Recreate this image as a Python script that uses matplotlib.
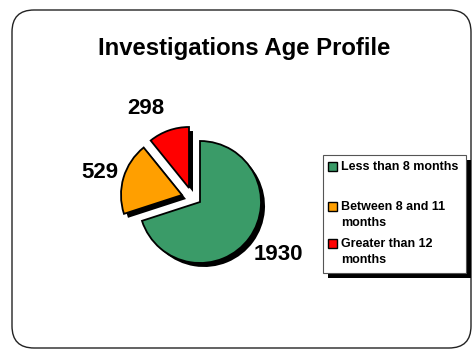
import matplotlib.pyplot as plt
from matplotlib.patches import FancyBboxPatch, Rectangle

plt.rcParams['font.family'] = ['Liberation Sans', 'DejaVu Sans']

# age bands and counts
labels = ["Less than 8 months", "Between 8 and 11\nmonths", "Greater than 12\nmonths"]
counts = [1930, 529, 298]
colors = ["#3A9B68", "#FF9F00", "#FF0000"]

# pixel offsets for the pulled-out slices
shifts = [(0, 0), (-18, 7), (-11, 14)]

fig = plt.figure(figsize=(4.74, 3.52), dpi=100)
ax = fig.add_axes([0, 0, 1, 1])
ax.set_xlim(0, 474)
ax.set_ylim(0, 352)
ax.set_aspect('equal')
ax.axis('off')

# rounded outer frame
frame = FancyBboxPatch((12, 4), 459, 338, boxstyle="round,pad=0,rounding_size=22",
                       fc="white", ec="#222222", lw=1.0)
ax.add_patch(frame)

ax.text(244, 304, "Investigations Age Profile", ha="center", va="center",
        fontsize=17.2, fontweight="bold")

cx, cy, r = 200, 150, 61

# shadow pie first, then the coloured one on top
shadow, _ = ax.pie(counts, startangle=90, counterclock=False, radius=r,
                   center=(cx + 4, cy - 4), colors=["black"] * 3,
                   wedgeprops=dict(lw=0))
wedges, _ = ax.pie(counts, startangle=90, counterclock=False, radius=r,
                   center=(cx, cy), colors=colors,
                   wedgeprops=dict(ec="black", lw=1.3))
for w, s, (dx, dy) in zip(wedges, shadow, shifts):
    w.set_center((cx + dx, cy + dy))
    s.set_center((cx + dx + 4, cy + dy - 4))

ax.set_xlim(0, 474)
ax.set_ylim(0, 352)

# value labels
label_pos = [(278, 97), (100, 180), (146, 244)]
for v, (x, y) in zip(counts, label_pos):
    ax.text(x, y, str(v), ha="center", va="center", fontsize=16, fontweight="bold")

# legend box with drop shadow
ax.add_patch(Rectangle((328, 74), 143, 118, fc="black", ec="none"))
ax.add_patch(Rectangle((323, 79), 143, 118, fc="white", ec="#555555", lw=0.8))
entry_y = [185, 145, 108]
for lab, col, y in zip(labels, colors, entry_y):
    ax.add_patch(Rectangle((328, y - 4), 9, 9, fc=col, ec="black", lw=1.0))
    ax.text(341, y + 6, lab, ha="left", va="top", fontsize=9, fontweight="bold",
            linespacing=1.45)

fig.savefig("out.png", dpi=100)
